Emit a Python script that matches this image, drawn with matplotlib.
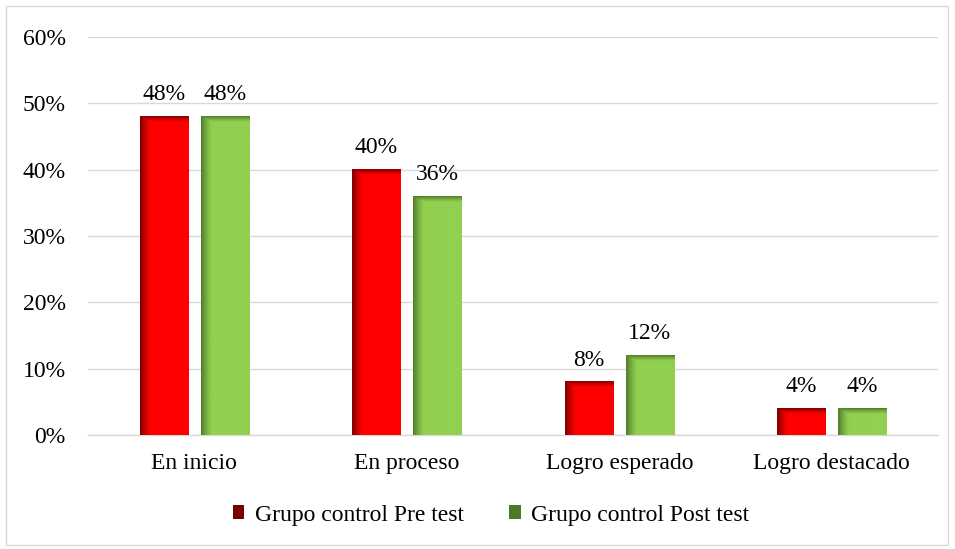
import numpy as np
import matplotlib
matplotlib.use("Agg")
import matplotlib.pyplot as plt
from matplotlib.patches import Rectangle, Patch
from matplotlib.colors import to_rgb

categories = ["En inicio", "En proceso", "Logro esperado", "Logro destacado"]
series_names = ["Grupo control Pre test", "Grupo control Post test"]
pre_test = [0.48, 0.40, 0.08, 0.04]
post_test = [0.48, 0.36, 0.12, 0.04]
y_ticks = [0.0, 0.1, 0.2, 0.3, 0.4, 0.5, 0.6]
y_tick_labels = ["0%", "10%", "20%", "30%", "40%", "50%", "60%"]

base_colors = ["#FF0000", "#92D050"]
dark_colors = ["#7A0000", "#4E7A28"]

plt.rcParams['font.family'] = ['Liberation Serif', 'DejaVu Serif']

W, H = 955, 549
fig = plt.figure(figsize=(W / 100, H / 100), dpi=100)
ax = fig.add_axes([88 / W, 1 - 435 / H, (938 - 88) / W, (435 - 37) / H])

ax.set_xlim(-0.5, len(categories) - 0.5)
ax.set_ylim(0, 0.6)

ax_h_px = 435 - 37
bar_w = 0.226
offset = 0.1435
FS = 17


def gradient_bar(x_center, height, base, dark):
    x0 = x_center - bar_w / 2
    hp = max(int(round(height / 0.6 * ax_h_px)), 2)
    wp = 48
    b = np.array(to_rgb(base))
    d = np.array(to_rgb(dark))
    xs = np.arange(wp) + 0.5
    ys = np.arange(hp) + 0.5
    fx = np.clip(1 - xs / 11.0, 0, 1) ** 1.3
    fy = np.clip(1 - ys / 6.0, 0, 1) ** 1.2
    f = np.maximum(fx[None, :], fy[:, None])
    img = b[None, None, :] * (1 - f[..., None]) + d[None, None, :] * f[..., None]
    ax.imshow(img, extent=[x0, x0 + bar_w, 0, height], origin='upper',
              aspect='auto', interpolation='bilinear', zorder=3)
    ax.bar(x_center, height, width=bar_w, color='none', zorder=4)


x = np.arange(len(categories))
for i, vals in enumerate([pre_test, post_test]):
    for xi, v in zip(x, vals):
        xc = xi + (-offset if i == 0 else offset)
        gradient_bar(xc, v, base_colors[i], dark_colors[i])
        ax.text(xc, v + 0.017, f"{round(v * 100):d}%", ha='center', va='bottom',
                fontsize=FS, color='#000000', zorder=5)

ax.set_aspect('auto')
ax.set_xlim(-0.5, len(categories) - 0.5)
ax.set_ylim(0, 0.6)

ax.set_yticks(y_ticks)
ax.set_yticklabels(y_tick_labels, fontsize=FS)
ax.set_xticks(x)
ax.set_xticklabels(categories, fontsize=FS)
ax.tick_params(axis='both', length=0)
ax.tick_params(axis='y', pad=16)
ax.tick_params(axis='x', pad=13)
ax.yaxis.grid(True, color='#D9D9D9', linewidth=1.0)
ax.set_axisbelow(True)
for s in ['top', 'right', 'left']:
    ax.spines[s].set_visible(False)
ax.spines['bottom'].set_color('#D9D9D9')
ax.spines['bottom'].set_linewidth(1.0)

handles = [Patch(facecolor=dark_colors[0], edgecolor='none'),
           Patch(facecolor=dark_colors[1], edgecolor='none')]
leg = fig.legend(handles, series_names, loc='center', bbox_to_anchor=(491 / W, 1 - 515 / H),
                 ncol=2, frameon=False, fontsize=FS, handlelength=0.5, handleheight=0.5,
                 handletextpad=0.45, columnspacing=1.9)

fig.patches.append(Rectangle((6 / W, 4 / H), (948 - 6) / W, (543 - 4) / H,
                             transform=fig.transFigure, fill=False,
                             edgecolor='#D9D9D9', linewidth=1.0))

fig.savefig("out.png", dpi=100)
